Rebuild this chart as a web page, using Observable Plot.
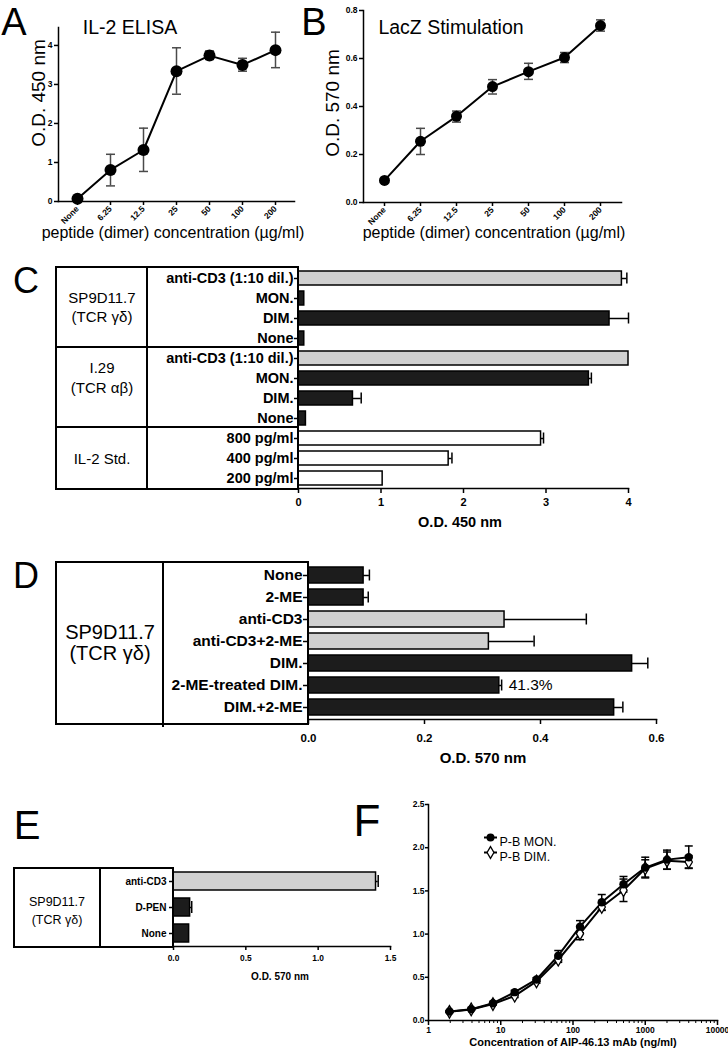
<!DOCTYPE html>
<html><head><meta charset="utf-8">
<script src="https://cdn.jsdelivr.net/npm/d3@7"></script>
<script src="https://cdn.jsdelivr.net/npm/@observablehq/plot@0.6"></script>
<style>
body{margin:0;background:#fff;}
#page{position:relative;width:728px;height:1050px;overflow:hidden;font-family:"Liberation Sans",Arial,Helvetica,sans-serif;color:#000;background:#fff;}
.abs{position:absolute;white-space:nowrap;line-height:1;}
.box{position:absolute;border:2px solid #000;box-sizing:border-box;}
.ln{position:absolute;background:#000;}
</style></head>
<body><div id="page"></div>
<script>
// ---------- DATA ----------
// Panel A: IL-2 ELISA
const concA = ["None","6.25","12.5","25","50","100","200"];
const elisaMean = [0.07,0.81,1.32,3.34,3.74,3.50,3.88];
const elisaLow  = [0.04,0.40,0.77,2.75,3.64,3.34,3.43];
const elisaHigh = [0.10,1.21,1.88,3.94,3.86,3.67,4.34];
const ticksA = [0,1,2,3,4];
// Panel B: LacZ stimulation
const lacZMean = [0.092,0.255,0.359,0.483,0.545,0.604,0.737];
const lacZLow  = [0.086,0.200,0.335,0.452,0.513,0.583,0.714];
const lacZHigh = [0.098,0.309,0.381,0.512,0.580,0.625,0.761];
const ticksB = [0,0.2,0.4,0.6,0.8];
// Panel C
const rowsC = ["anti-CD3 (1:10 dil.)","MON.","DIM.","None","anti-CD3 (1:10 dil.)","MON.","DIM.","None","800 pg/ml","400 pg/ml","200 pg/ml"];
const valuesC = [3.92,0.07,3.77,0.07,4.0,3.52,0.66,0.09,2.94,1.82,1.02];
const errorsC = [0.06,0,0.23,0,0,0.03,0.10,0,0.03,0.04,0];
const kindC = ["anti","pep","pep","pep","anti","pep","pep","pep","std","std","std"];
const ticksC = [0,1,2,3,4];
// Panel D
const rowsD = ["None","2-ME","anti-CD3","anti-CD3+2-ME","DIM.","2-ME-treated DIM.","DIM.+2-ME"];
const valuesD = [0.095,0.095,0.338,0.311,0.558,0.329,0.527];
const errorsD = [0.010,0.008,0.141,0.078,0.027,0.004,0.015];
const kindD = ["pep","pep","anti","anti","pep","pep","pep"];
const notesD = ["","","","","","41.3%",""];
const ticksD = [0,0.2,0.4,0.6];
// Panel E
const rowsE = ["anti-CD3","D-PEN","None"];
const valuesE = [1.40,0.115,0.108];
const errorsE = [0.015,0.011,0];
const kindE = ["anti","pep","pep"];
const ticksE = [0,0.5,1.0,1.5];
// Panel F
const concF = [1.95,3.9,7.8,15.6,31.25,62.5,125,250,500,1000,2000,4000];
const monMean = [0.104,0.131,0.20,0.328,0.475,0.75,1.086,1.368,1.577,1.77,1.862,1.89];
const monErr  = [0.01,0.01,0.01,0.02,0.02,0.06,0.07,0.09,0.09,0.12,0.11,0.13];
const dimMean = [0.10,0.128,0.19,0.286,0.452,0.703,1.005,1.314,1.507,1.76,1.85,1.835];
const dimErr  = [0.01,0.01,0.01,0.02,0.02,0.03,0.07,0.04,0.13,0.10,0.10,0.07];
const ticksFx = [1,10,100,1000,10000];
const ticksFy = [0,0.5,1.0,1.5,2.0,2.5];
const legendF = ["P-B MON.","P-B DIM."];

// ---------- HELPERS ----------
const FONT = '"Liberation Sans", Arial, Helvetica, sans-serif';
const baseStyle = {background:"none", overflow:"visible", fontFamily:FONT, fontWeight:"bold", color:"#000"};
const page = document.getElementById("page");
const FILL = {anti:"#d0d0d0", pep:"#1c1c1c", std:"#ffffff"};
function place(el, left, top){ el.style.position="absolute"; el.style.left=left+"px"; el.style.top=top+"px"; el.style.maxWidth="none"; page.appendChild(el); return el; }
const cap = (hw) => ({draw(ctx){ ctx.moveTo(-hw,0); ctx.lineTo(hw,0); }});
function txt(s, cx, cy, size, bold, rot){
  const d = document.createElement("div");
  d.className = "abs"; d.textContent = s;
  d.style.fontSize = size+"px"; d.style.fontWeight = bold ? "bold" : "normal";
  d.style.left = cx+"px"; d.style.top = cy+"px";
  d.style.transform = "translate(-50%,-50%)" + (rot ? ` rotate(${rot}deg)` : "");
  page.appendChild(d);
}
function box(x1,y1,x2,y2){ const d=document.createElement("div"); d.className="box"; d.style.left=x1+"px"; d.style.top=y1+"px"; d.style.width=(x2-x1)+"px"; d.style.height=(y2-y1)+"px"; page.appendChild(d); }
function ln(x1,y1,x2,y2){ const d=document.createElement("div"); d.className="ln"; d.style.left=x1+"px"; d.style.top=y1+"px"; d.style.width=Math.max(2,x2-x1)+"px"; d.style.height=Math.max(2,y2-y1)+"px"; page.appendChild(d); }

// ---------- LINE PANELS A & B ----------
function linePanel(o){
  const data = concA.map((c,i)=>({c, m:o.mean[i], lo:o.low[i], hi:o.high[i]}));
  const plot = Plot.plot({
    width:o.width, height:o.height,
    marginLeft:o.ml, marginRight:o.mr, marginTop:o.mt, marginBottom:o.mb,
    x:{type:"point", domain:concA, padding:0.54},
    y:{domain:o.yDomain},
    style:baseStyle,
    marks:[
      Plot.ruleX(data, {x:"c", y1:"lo", y2:"hi", stroke:"#4a4a4a", strokeWidth:1.5}),
      Plot.dot(data, {x:"c", y:"hi", symbol:cap(4.5), r:1, fill:"none", stroke:"#4a4a4a", strokeWidth:1.5}),
      Plot.dot(data, {x:"c", y:"lo", symbol:cap(4.5), r:1, fill:"none", stroke:"#4a4a4a", strokeWidth:1.5}),
      Plot.line(data, {x:"c", y:"m", stroke:"#000", strokeWidth:2}),
      Plot.dot(data, {x:"c", y:"m", r:o.r, fill:"#000", stroke:"none"}),
      Plot.axisY({ticks:o.yTicks, tickFormat:o.yFmt, tickSize:4, tickPadding:2, fontSize:8.5, strokeWidth:1.5, label:null}),
      Plot.axisX({tickSize:4, tickPadding:2, tickRotate:-45, fontSize:8.5, strokeWidth:1.5, label:null}),
      Plot.frame({anchor:"left", strokeWidth:1.5}),
      Plot.frame({anchor:"bottom", strokeWidth:1.5})
    ]
  });
  place(plot, o.left, o.top);
}
linePanel({mean:elisaMean, low:elisaLow, high:elisaHigh, yDomain:[0,4.46], yTicks:ticksA, yFmt:d3.format("d"),
  left:0, top:0, width:300, height:232, ml:58, mr:6, mt:27, mb:31, r:6});
linePanel({mean:lacZMean, low:lacZLow, high:lacZHigh, yDomain:[0,0.8], yTicks:ticksB, yFmt:d3.format(".1f"),
  left:300, top:0, width:330, height:233, ml:63, mr:9, mt:10, mb:31, r:5.5});

txt("A", 14, 22, 38, false);
txt("B", 314, 22, 38, false);
txt("IL-2 ELISA", 130, 28, 19.5, false);
txt("LacZ Stimulation", 451, 28, 19.5, false);
txt("O.D. 450 nm", 38, 93, 19, false, -90);
txt("O.D. 570 nm", 332, 103, 19, false, -90);
txt("peptide (dimer) concentration (\u00b5g/ml)", 173, 233, 16, false);
txt("peptide (dimer) concentration (\u00b5g/ml)", 494, 233, 16, false);

// ---------- BAR PANELS C, D, E ----------
function barPanel(o){
  const data = o.rows.map((r,i)=>({i, r, v:o.values[i], e:o.errors[i], k:o.kinds[i], n:o.notes ? o.notes[i] : ""}));
  const errs = data.filter(d=>d.e>0);
  const plot = Plot.plot({
    width:o.frameRight + o.mr - o.left,
    height:o.frameBottom - o.top + o.mb,
    marginLeft:o.frameLeft - o.left, marginRight:o.mr,
    marginTop:o.frameTop - o.top, marginBottom:o.mb,
    x:{domain:o.xDomain},
    y:{type:"band", domain:data.map(d=>d.i), paddingInner:o.pad, paddingOuter:o.pad/2},
    color:{type:"identity"},
    style:baseStyle,
    marks:[
      Plot.barX(data, {y:"i", x:"v", fill:d=>FILL[d.k], stroke:"#000", strokeWidth:1.5}),
      Plot.ruleY(errs, {y:"i", x1:"v", x2:d=>d.v+d.e, stroke:"#000", strokeWidth:1.5}),
      Plot.tickX(errs, {y:"i", x:d=>d.v+d.e, stroke:"#000", strokeWidth:1.5, insetTop:o.capInset, insetBottom:o.capInset}),
      Plot.text(data.filter(d=>d.n), {y:"i", x:d=>d.v+d.e, text:"n", dx:7, textAnchor:"start", fontSize:15.5, fontWeight:"normal"}),
      Plot.axisY({tickFormat:i=>o.rows[i], tickSize:o.yTick, tickPadding:o.yPad, fontSize:o.labelSize, strokeWidth:1.5, label:null}),
      Plot.axisX({ticks:o.xTicks, tickFormat:o.fmt, tickSize:o.xTick, tickPadding:o.xPad, fontSize:o.tickSize, strokeWidth:1.5, label:null}),
      Plot.frame({anchor:"bottom", strokeWidth:1.5})
    ]
  });
  place(plot, o.left, o.top);
}

// C
barPanel({rows:rowsC, values:valuesC, errors:errorsC, kinds:kindC, xDomain:[0,4], xTicks:ticksC, fmt:d3.format("d"),
  left:0, top:255, frameLeft:298, frameRight:628, frameTop:267, frameBottom:488, mr:17, mb:30,
  pad:0.32, capInset:1.5, yTick:4, yPad:1, labelSize:14.5, xTick:5, xPad:5, tickSize:11});
box(55,266,299,490);
ln(55,346,298,348);
ln(55,426,298,428);
ln(146,266,148,490);
txt("C", 26, 281, 36, false);
txt("SP9D11.7", 102, 297, 15, false);
txt("(TCR \u03b3\u03b4)", 102, 316, 15, false);
txt("I.29", 102, 367, 15, false);
txt("(TCR \u03b1\u03b2)", 102, 387, 15, false);
txt("IL-2 Std.", 102, 458, 15, false);
txt("O.D. 450 nm", 460, 522, 14.5, true);

// D
barPanel({rows:rowsD, values:valuesD, errors:errorsD, kinds:kindD, notes:notesD, xDomain:[0,0.6], xTicks:ticksD, fmt:d3.format(".1f"),
  left:0, top:550, frameLeft:308, frameRight:656, frameTop:562, frameBottom:719, mr:14, mb:30,
  pad:0.29, capInset:2.5, yTick:5, yPad:1, labelSize:15.5, xTick:5, xPad:9, tickSize:11.5});
box(55,561,309,725);
ln(162,561,164,727);
txt("D", 26, 576, 36, false);
txt("SP9D11.7", 110, 632, 20, false);
txt("(TCR \u03b3\u03b4)", 110, 653, 20, false);
txt("O.D. 570 nm", 483, 757, 15, true);

// E
barPanel({rows:rowsE, values:valuesE, errors:errorsE, kinds:kindE, xDomain:[0,1.5], xTicks:ticksE, fmt:d3.format(".1f"),
  left:0, top:860, frameLeft:173, frameRight:390, frameTop:868, frameBottom:946, mr:10, mb:22,
  pad:0.3, capInset:3, yTick:4, yPad:3, labelSize:10, xTick:4, xPad:5, tickSize:8.4});
box(13,867,174,948);
ln(99,867,101,948);
txt("E", 27, 825, 40, false);
txt("SP9D11.7", 57, 902, 12.5, false);
txt("(TCR \u03b3\u03b4)", 57, 920, 12.5, false);
txt("O.D. 570 nm", 280, 977, 10, true);

// ---------- PANEL F ----------
const dataF = concF.flatMap((c,i)=>[
  {c, s:"MON", m:monMean[i], e:monErr[i]},
  {c, s:"DIM", m:dimMean[i], e:dimErr[i]}
]);
const minorF = [1,10,100,1000].flatMap(b=>[2,3,4,5,6,7,8,9].map(k=>b*k));
const plotF = Plot.plot({
  width:368, height:260, marginLeft:68, marginRight:11, marginTop:14, marginBottom:30,
  x:{type:"log", domain:[1,10000]},
  y:{domain:[0,2.5]},
  style:baseStyle,
  marks:[
    Plot.ruleX(dataF, {x:"c", y1:d=>d.m-d.e, y2:d=>d.m+d.e, stroke:"#000", strokeWidth:1.5}),
    Plot.dot(dataF, {x:"c", y:d=>d.m+d.e, symbol:cap(4), r:1, fill:"none", stroke:"#000", strokeWidth:1.5}),
    Plot.dot(dataF, {x:"c", y:d=>d.m-d.e, symbol:cap(4), r:1, fill:"none", stroke:"#000", strokeWidth:1.5}),
    Plot.line(dataF, {x:"c", y:"m", z:"s", stroke:"#000", strokeWidth:2}),
    Plot.dot(dataF.filter(d=>d.s==="DIM"), {x:"c", y:"m", symbol:"diamond", r:3.8, fill:"#fff", stroke:"#000", strokeWidth:1.3}),
    Plot.dot(dataF.filter(d=>d.s==="MON"), {x:"c", y:"m", r:4.2, fill:"#000", stroke:"none"}),
    // legend
    Plot.dot([legendF[0]], {frameAnchor:"top-left", dx:62, dy:33, symbol:cap(6.5), r:1, fill:"none", stroke:"#000", strokeWidth:2}),
    Plot.dot([legendF[0]], {frameAnchor:"top-left", dx:62, dy:33, r:4, fill:"#000", stroke:"none"}),
    Plot.text([legendF[0]], {frameAnchor:"top-left", dx:71, dy:33, text:d=>d, textAnchor:"start", fontSize:12.5, fontWeight:"normal"}),
    Plot.dot([legendF[1]], {frameAnchor:"top-left", dx:62, dy:48, symbol:cap(6.5), r:1, fill:"none", stroke:"#000", strokeWidth:2}),
    Plot.dot([legendF[1]], {frameAnchor:"top-left", dx:62, dy:48, symbol:"diamond", r:3.6, fill:"#fff", stroke:"#000", strokeWidth:1.3}),
    Plot.text([legendF[1]], {frameAnchor:"top-left", dx:71, dy:48, text:d=>d, textAnchor:"start", fontSize:12.5, fontWeight:"normal"}),
    // axes
    Plot.axisY({ticks:ticksFy, tickFormat:d3.format(".1f"), tickSize:3, tickPadding:1, fontSize:8.5, strokeWidth:1.5, label:null}),
    Plot.axisX({ticks:ticksFx, tickFormat:d3.format("d"), tickSize:5, tickPadding:1, fontSize:8.5, strokeWidth:1.5, label:null}),
    Plot.axisX({ticks:minorF, tickFormat:null, text:null, tickSize:3, strokeWidth:1, label:null}),
    Plot.frame({anchor:"left", strokeWidth:1.5}),
    Plot.frame({anchor:"bottom", strokeWidth:1.5})
  ]
});
place(plotF, 360, 790);
txt("F", 367, 821, 44, false);
txt("Concentration of AIP-46.13 mAb (ng/ml)", 573, 1042, 11, true);
</script>
</body></html>
